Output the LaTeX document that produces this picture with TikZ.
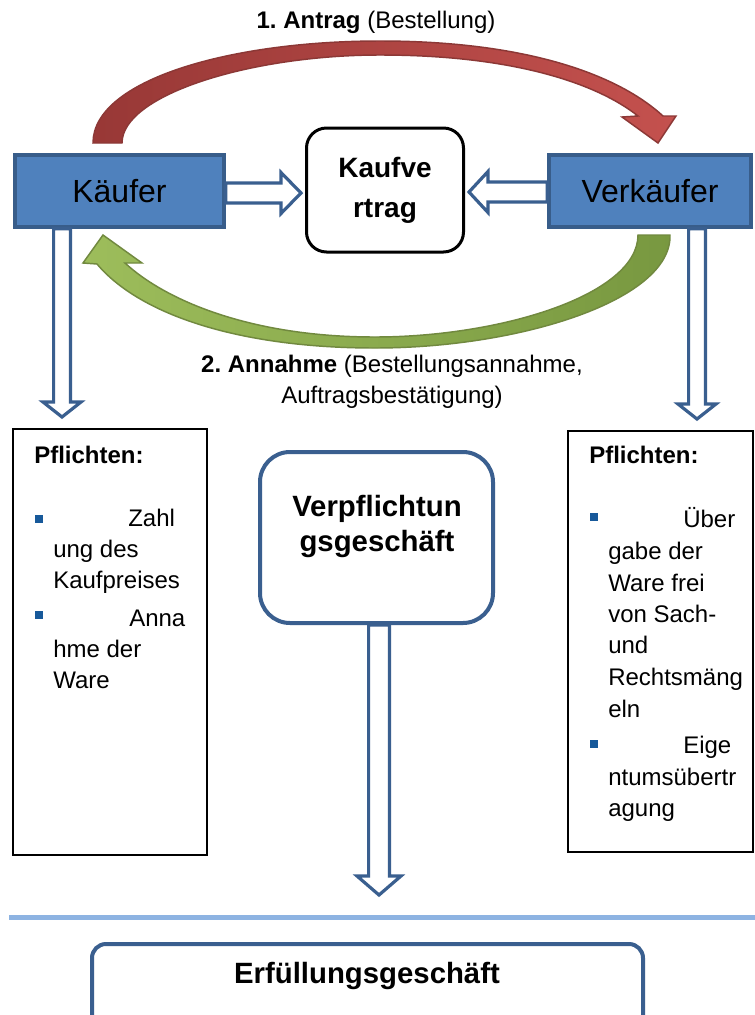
\documentclass[tikz,border=0pt]{standalone}
\usepackage{fontspec}
\setmainfont{Liberation Sans}
\usetikzlibrary{calc}
\frenchspacing
\definecolor{boxblue}{HTML}{4F81BD}
\definecolor{boxedge}{HTML}{385D8A}
\definecolor{arrowedge}{HTML}{3A5F8F}
\definecolor{lineblue}{HTML}{8DB3E2}
\definecolor{bulletblue}{HTML}{17599A}
\definecolor{redA}{HTML}{983836}
\definecolor{redB}{HTML}{C4514E}
\definecolor{redEdge}{HTML}{8C3836}
\definecolor{greenA}{HTML}{9DBD5B}
\definecolor{greenB}{HTML}{789840}
\definecolor{greenEdge}{HTML}{71893F}
\begin{document}
\begin{tikzpicture}[x=0.75pt,y=-0.75pt,
 party/.style={rectangle, fill=boxblue, draw=boxedge, line width=2.6pt, minimum height=54pt, font=\fontsize{24}{28}\selectfont, inner sep=0pt},
 hollow/.style={draw=arrowedge, fill=white, line width=2.4pt, line join=miter},
 duty/.style={rectangle, draw=black, line width=1.6pt, fill=white, inner sep=0pt},
 dtext/.style={anchor=base west, font=\fontsize{18}{22}\selectfont, inner sep=0pt},
 dhead/.style={anchor=base west, font=\bfseries\fontsize{18}{22}\selectfont, inner sep=0pt},
 bulletsq/.style={rectangle, fill=bulletblue, minimum size=6pt, inner sep=0pt},
 lbl/.style={font=\fontsize{18}{23.25}\selectfont, align=center, inner sep=0pt},
 bigtitle/.style={font=\bfseries\fontsize{22}{26.25}\selectfont, align=center, inner sep=0pt},
 roundbox/.style={rectangle, draw=arrowedge, line width=3pt, fill=white, inner sep=0pt},
]
\clip (0,0) rectangle (755,1015);
\fill[white] (0,0) rectangle (755,1015);

% main nodes
\node[party, minimum width=156.75pt] (kaeufer) at (119.5,191) {Käufer};
\node[party, minimum width=151.5pt] (verkaeufer) at (650,191) {Verkäufer};
\node[rectangle, rounded corners=15pt, draw=black, line width=2.25pt, minimum width=117.75pt, minimum height=93pt, fill=white, font=\bfseries\fontsize{21}{30}\selectfont, align=center, inner sep=0pt] (kv) at (385,190) {Kaufve\\rtrag};

\node[duty, minimum width=145.5pt, minimum height=319.5pt] (dutyL) at (110,642) {};
\node[duty, minimum width=138.75pt, minimum height=315.75pt] (dutyR) at (660.5,641.5) {};

\node[roundbox, rounded corners=22.5pt, minimum width=174.75pt, minimum height=128.25pt] (verpfl) at (376.5,537.5) {};
\node[bigtitle] (verpfltxt) at (377,526) {Verpflichtun\\gsgeschäft};

\node[roundbox, rounded corners=10.5pt, minimum width=413.25pt, minimum height=72pt] (erf) at (367.5,992) {};
\node[bigtitle] (erftxt) at (367,976) {Erfüllungsgeschäft};

% separator line
\draw[lineblue, line width=3.75pt] (9,917) -- (755,917);

% curved red arrow (Antrag)
\draw[redEdge, line width=1.1pt, left color=redA, right color=redB]
  (93,143) .. controls (93,80) and (230,41) .. (380,41)
  .. controls (520,41) and (615,72) .. (663,116)
  -- (676,116) -- (658,143) -- (622,117) -- (638,116)
  .. controls (595,82) and (510,55) .. (380,55)
  .. controls (250,55) and (122,95) .. (122,143) -- cycle;

% curved green arrow (Annahme)
\draw[greenEdge, line width=1.1pt, left color=greenA, right color=greenB]
  (670,235) .. controls (672,300) and (520,348) .. (375,348)
  .. controls (240,348) and (140,315) .. (97,264)
  -- (83,263) -- (103,235) -- (142,263) -- (125,263)
  .. controls (165,300) and (250,337) .. (375,337)
  .. controls (500,337) and (638,295) .. (638,235) -- cycle;

% labels
\node[lbl] (antrag) at (376,22) {\textbf{1. Antrag} (Bestellung)};
\node[lbl] (annahme) at (392,382) {\textbf{2. Annahme} (Bestellungsannahme,\\Auftragsbestätigung)};

% hollow arrows
\coordinate (t1) at (301,193);
\draw[hollow] ($(kaeufer.east |- t1)+(0,-10)$) -- ($(t1)+(-20,-10)$) -- ($(t1)+(-20,-20.5)$) -- (t1) -- ($(t1)+(-20,20.5)$) -- ($(t1)+(-20,10)$) -- ($(kaeufer.east |- t1)+(0,10)$) -- cycle;
\coordinate (t2) at (469,192);
\draw[hollow] ($(verkaeufer.west |- t2)+(0,-10)$) -- ($(t2)+(19,-10)$) -- ($(t2)+(19,-20.5)$) -- (t2) -- ($(t2)+(19,20.5)$) -- ($(t2)+(19,10)$) -- ($(verkaeufer.west |- t2)+(0,10)$) -- cycle;
\coordinate (t3) at (62,417);
\draw[hollow] ($(t3 |- kaeufer.south)+(-8.4,0)$) -- ($(t3)+(-8.4,-15)$) -- ($(t3)+(-19,-15)$) -- (t3) -- ($(t3)+(19,-15)$) -- ($(t3)+(8.4,-15)$) -- ($(t3 |- kaeufer.south)+(8.4,0)$) -- cycle;
\coordinate (t4) at (697,419);
\draw[hollow] ($(t4 |- verkaeufer.south)+(-8.4,0)$) -- ($(t4)+(-8.4,-15)$) -- ($(t4)+(-19,-15)$) -- (t4) -- ($(t4)+(19,-15)$) -- ($(t4)+(8.4,-15)$) -- ($(t4 |- verkaeufer.south)+(8.4,0)$) -- cycle;
\coordinate (t5) at (379,895);
\draw[hollow] ($(t5 |- verpfl.south)+(-10.4,0)$) -- ($(t5)+(-10.4,-19)$) -- ($(t5)+(-22,-19)$) -- (t5) -- ($(t5)+(22,-19)$) -- ($(t5)+(10.4,-19)$) -- ($(t5 |- verpfl.south)+(10.4,0)$) -- cycle;

% left duties
\node[dhead] (lh) at (34,463) {Pflichten:};
\node[bulletsq] (lb1) at (39,518.5) {};
\node[dtext] (l1) at (128,526) {Zahl};
\node[dtext] (l2) at (53,557) {ung des};
\node[dtext] (l3) at (53,588) {Kaufpreises};
\node[bulletsq] (lb2) at (39,615) {};
\node[dtext] (l4) at (129,626) {Anna};
\node[dtext] (l5) at (53,657) {hme der};
\node[dtext] (l6) at (53,688) {Ware};

% right duties
\node[dhead] (rh) at (589,463) {Pflichten:};
\node[bulletsq] (rb1) at (594,517) {};
\node[dtext] (r1) at (683,527) {Über};
\node[dtext] (r2) at (608,559) {gabe der};
\node[dtext] (r3) at (608,591) {Ware frei};
\node[dtext] (r4) at (608,622) {von Sach-};
\node[dtext] (r5) at (608,653) {und};
\node[dtext] (r6) at (608,685) {Rechtsmäng};
\node[dtext] (r7) at (608,717) {eln};
\node[bulletsq] (rb2) at (594,744) {};
\node[dtext] (r8) at (683,753) {Eige};
\node[dtext] (r9) at (608,785) {ntumsübertr};
\node[dtext] (r10) at (608,816) {agung};
\end{tikzpicture}
\end{document}
